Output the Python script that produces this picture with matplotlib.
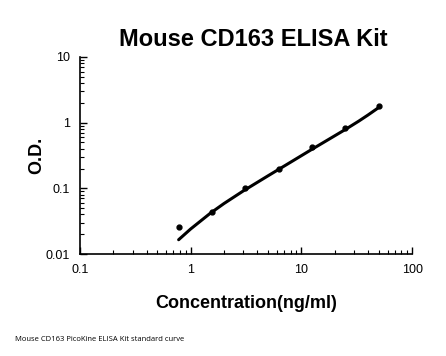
import numpy as np
import matplotlib.pyplot as plt
from matplotlib.ticker import LogLocator, FixedLocator, NullFormatter

# standard points
conc = [0.78, 1.5625, 3.125, 6.25, 12.5, 25, 50]
od = [0.0255, 0.043, 0.100, 0.20, 0.43, 0.82, 1.81]

# fitted curve
curve_x = [0.78, 1.0, 1.5, 2.0, 3.0, 5.0, 8.0, 12.0, 18.0, 25.0, 33.0, 40.0, 50.0]
curve_y = [0.0165, 0.024, 0.0415, 0.0586, 0.0916, 0.155, 0.250, 0.378, 0.567, 0.788, 1.055, 1.308, 1.70]

plt.rcParams['font.family'] = ['Liberation Sans', 'DejaVu Sans']

fig = plt.figure(figsize=(4.46, 3.56), dpi=100)
ax = fig.add_axes([0.179, 0.2865, 0.745, 0.5535])

ax.plot(curve_x, curve_y, color='black', lw=2.2, solid_capstyle='round',
        solid_joinstyle='round')
ax.plot(conc, od, 'o', color='black', ms=3.5)

ax.set_xscale('log')
ax.set_yscale('log')
ax.set_xlim(0.1, 100)
ax.set_ylim(0.01, 10)

ax.xaxis.set_major_locator(FixedLocator([0.1, 1, 10, 100]))
ax.yaxis.set_major_locator(FixedLocator([0.01, 0.1, 1, 10]))
ax.set_xticklabels(['0.1', '1', '10', '100'])
ax.set_yticklabels(['0.01', '0.1', '1', '10'])
ax.xaxis.set_minor_locator(LogLocator(subs=np.arange(2, 10)))
ax.yaxis.set_minor_locator(LogLocator(subs=np.arange(2, 10)))
ax.xaxis.set_minor_formatter(NullFormatter())
ax.yaxis.set_minor_formatter(NullFormatter())

ax.tick_params(which='major', direction='in', length=5, width=1, labelsize=9, pad=7)
ax.tick_params(which='minor', direction='in', length=3, width=0.8)
ax.spines['top'].set_visible(False)
ax.spines['right'].set_visible(False)
for s in ['left', 'bottom']:
    ax.spines[s].set_linewidth(1.2)

fig.text(0.567, 0.888, 'Mouse CD163 ELISA Kit', ha='center', va='center',
         fontsize=17, fontweight='bold')
ax.set_xlabel('Concentration(ng/ml)', fontsize=13, fontweight='bold', labelpad=14)
ax.set_ylabel('O.D.', fontsize=13, fontweight='bold', labelpad=0)

fig.text(0.034, 0.045, 'Mouse CD163 PicoKine ELISA Kit standard curve',
         fontsize=5.5, family='Open Sans', va='center')

fig.savefig('out.png', dpi=100)
